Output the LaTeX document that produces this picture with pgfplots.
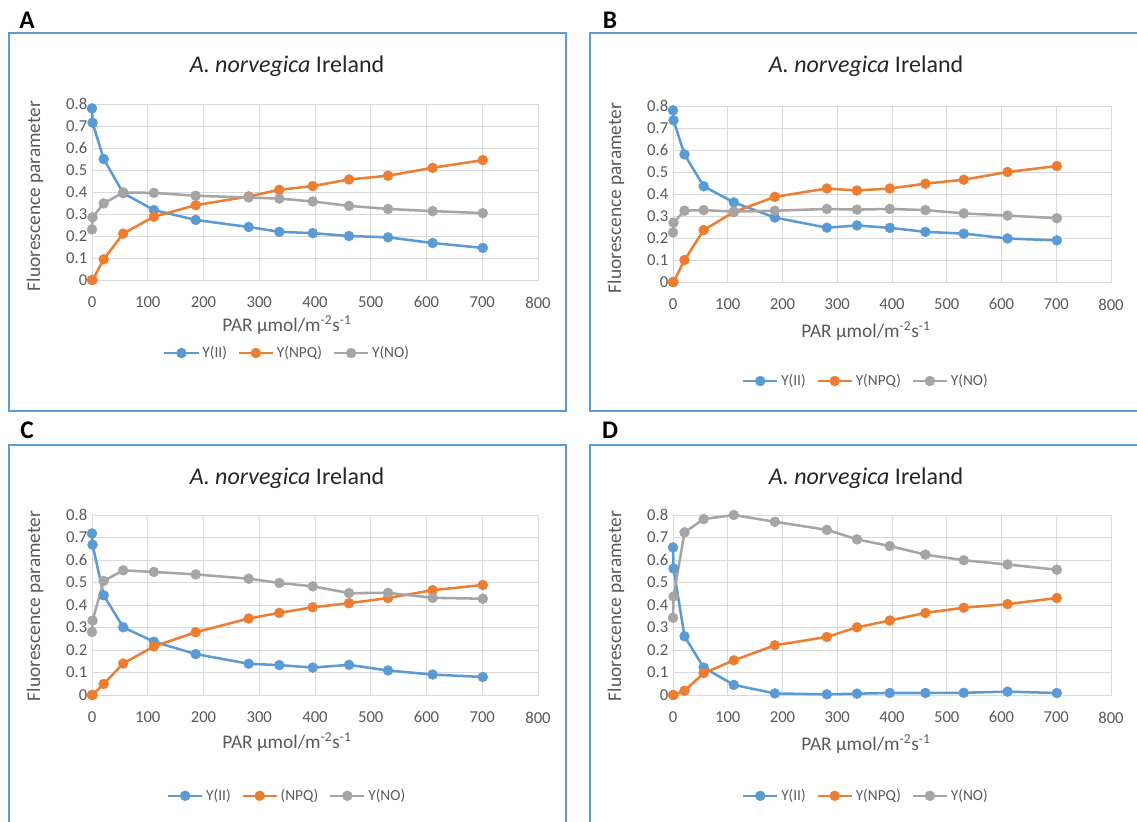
\documentclass[border=0pt]{standalone}
\usepackage{fontspec}
\setmainfont{Carlito}
\usepackage{pgfplots}
\pgfplotsset{compat=1.18}
\usepackage{pgfplotstable}
\definecolor{cII}{HTML}{5B9BD5}
\definecolor{cNPQ}{HTML}{ED7D31}
\definecolor{cNO}{HTML}{A5A5A5}
\definecolor{gridc}{HTML}{D9D9D9}
\definecolor{txt}{HTML}{595959}
\definecolor{framec}{HTML}{5B9BD5}

\pgfplotstableread{
x   II     NPQ    NO
0   0.780  0.000  0.230
1   0.715  0.000  0.285
21  0.550  0.094  0.348
56  0.395  0.211  0.398
111 0.318  0.288  0.396
186 0.273  0.340  0.383
281 0.241  0.380  0.375
336 0.219  0.410  0.370
396 0.213  0.427  0.357
461 0.200  0.457  0.337
531 0.194  0.474  0.323
611 0.168  0.510  0.313
701 0.146  0.545  0.304
}\dataA
\pgfplotstableread{
x   II     NPQ    NO
0   0.780  0.000  0.225
1   0.735  0.000  0.270
21  0.580  0.100  0.324
56  0.435  0.236  0.327
111 0.362  0.318  0.320
186 0.293  0.387  0.324
281 0.247  0.425  0.332
336 0.257  0.416  0.329
396 0.246  0.425  0.332
461 0.228  0.447  0.327
531 0.220  0.465  0.312
611 0.198  0.500  0.302
701 0.189  0.527  0.290
}\dataB
\pgfplotstableread{
x   II     NPQ    NO
0   0.718  0.000  0.280
1   0.668  0.000  0.331
21  0.443  0.049  0.507
56  0.301  0.140  0.554
111 0.237  0.216  0.547
186 0.182  0.279  0.536
281 0.139  0.340  0.517
336 0.133  0.365  0.498
396 0.122  0.390  0.483
461 0.134  0.408  0.453
531 0.109  0.431  0.454
611 0.091  0.466  0.432
701 0.080  0.489  0.428
}\dataC
\pgfplotstableread{
x   II     NPQ    NO
0   0.656  0.000  0.343
1   0.562  0.000  0.438
21  0.261  0.019  0.723
56  0.122  0.097  0.782
111 0.045  0.154  0.800
186 0.007  0.221  0.770
281 0.003  0.258  0.734
336 0.006  0.301  0.692
396 0.009  0.331  0.662
461 0.009  0.365  0.624
531 0.010  0.388  0.599
611 0.015  0.404  0.580
701 0.009  0.431  0.557
}\dataD

\pgfplotsset{
  panel/.style={
    scale only axis,
    anchor=south west,
    xmin=0, xmax=800, ymin=0, ymax=0.8,
    xtick={0,100,200,300,400,500,600,700,800},
    ytick={0,0.1,0.2,0.3,0.4,0.5,0.6,0.7,0.8},
    grid=major, major grid style={gridc, line width=0.75pt},
    axis line style={gridc, line width=0.75pt},
    major tick length=0pt, tick style={draw=none},
    tick label style={font=\fontsize{12.5}{14}\selectfont, text=txt},
    /pgf/number format/assume math mode=true,
    yticklabel style={/pgf/number format/fixed, /pgf/number format/precision=1},
    xticklabel style={yshift=-9pt},
    clip=false,
    legend columns=3,
    legend style={draw=none, fill=none, font=\fontsize{11.5}{13}\selectfont, text=txt,
      anchor=center, /tikz/every even column/.append style={column sep=6pt}},
    legend image code/.code={\draw[mark repeat=2, mark phase=2, ##1] plot coordinates {(0cm,0cm) (0.45cm,0cm) (0.9cm,0cm)};},
  },
  pII/.style={color=cII, line width=1.9pt, mark=*, mark size=3.7pt, mark options={solid, line width=0.4pt, fill=cII, draw=cII}},
  pNPQ/.style={color=cNPQ, line width=1.9pt, mark=*, mark size=3.7pt, mark options={solid, line width=0.4pt, fill=cNPQ, draw=cNPQ}},
  pNO/.style={color=cNO, line width=1.9pt, mark=*, mark size=3.7pt, mark options={solid, line width=0.4pt, fill=cNO, draw=cNO}},
}

\begin{document}
\begin{tikzpicture}
\useasboundingbox (0pt,0pt) rectangle (852.75pt,-615.75pt);

\begin{scope}[x=0.75pt, y=-0.75pt]
% frames
\draw[framec, line width=1.2pt] (9,33) rectangle (566,411);
\draw[framec, line width=1.2pt] (590,33) rectangle (1160,411);
\draw[framec, line width=1.2pt] (9,445) rectangle (566,840);
\draw[framec, line width=1.2pt] (590,445) rectangle (1160,840);

% panel letters
\node[font=\bfseries\fontsize{19}{21}\selectfont] at (27,20) {A};
\node[font=\bfseries\fontsize{19}{21}\selectfont] at (610,20) {B};
\node[font=\bfseries\fontsize{19}{21}\selectfont] at (27,430) {C};
\node[font=\bfseries\fontsize{19}{21}\selectfont] at (610,430) {D};

% titles
\foreach \cx/\cy in {287/66, 866/66, 287/478, 866/478}
  \node[font=\fontsize{18}{20}\selectfont, text=black!85] at (\cx,\cy) {\textit{A. norvegica} Ireland};
% x labels
\foreach \cx/\cy in {287/325, 866/331, 287/742, 866/744}
  \node[font=\fontsize{14.5}{16}\selectfont, text=txt] at (\cx,\cy) {PAR µmol/m\textsuperscript{-2}s\textsuperscript{-1}};
% y labels
\foreach \cx/\cy in {35/196, 616/198, 35/606, 616/606}
  \node[font=\fontsize{14.5}{16}\selectfont, text=txt, rotate=90] at (\cx,\cy) {Fluorescence parameter};
\end{scope}

% A
\begin{axis}[panel, at={(69pt,-210pt)}, width=334.5pt, height=132pt,
  legend style={at={(0.438,-0.415)}}]
\addplot[pII] table[x=x, y=II] {\dataA};
\addplot[pNPQ] table[x=x, y=NPQ] {\dataA};
\addplot[pNO] table[x=x, y=NO] {\dataA};
\legend{Y(II), Y(NPQ), Y(NO)}
\end{axis}

% B
\begin{axis}[panel, at={(504.75pt,-211.5pt)}, width=328.5pt, height=132pt,
  legend style={at={(0.441,-0.5625)}}]
\addplot[pII] table[x=x, y=II] {\dataB};
\addplot[pNPQ] table[x=x, y=NPQ] {\dataB};
\addplot[pNO] table[x=x, y=NO] {\dataB};
\legend{Y(II), Y(NPQ), Y(NO)}
\end{axis}

% C
\begin{axis}[panel, at={(69pt,-521.25pt)}, width=334.5pt, height=135pt,
  legend style={at={(0.438,-0.56)}}]
\addplot[pII] table[x=x, y=II] {\dataC};
\addplot[pNPQ] table[x=x, y=NPQ] {\dataC};
\addplot[pNO] table[x=x, y=NO] {\dataC};
\legend{Y(II), (NPQ), Y(NO)}
\end{axis}

% D
\begin{axis}[panel, at={(504.75pt,-521.25pt)}, width=328.5pt, height=135pt,
  legend style={at={(0.441,-0.56)}}]
\addplot[pII] table[x=x, y=II] {\dataD};
\addplot[pNPQ] table[x=x, y=NPQ] {\dataD};
\addplot[pNO] table[x=x, y=NO] {\dataD};
\legend{Y(II), Y(NPQ), Y(NO)}
\end{axis}
\end{tikzpicture}
\end{document}
